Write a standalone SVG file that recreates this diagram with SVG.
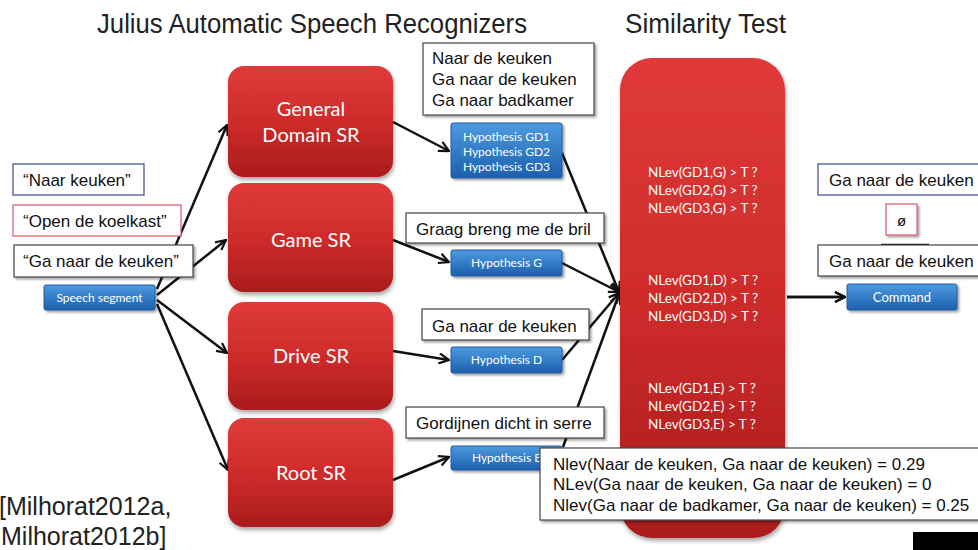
<svg xmlns="http://www.w3.org/2000/svg" width="978" height="550" viewBox="0 0 978 550">
<defs>
<linearGradient id="red" x1="0" y1="0" x2="0" y2="1">
<stop offset="0" stop-color="#e03a3a"/>
<stop offset="0.5" stop-color="#cf2b2b"/>
<stop offset="1" stop-color="#aa1c1c"/>
</linearGradient>
<linearGradient id="blue" x1="0" y1="0" x2="0" y2="1">
<stop offset="0" stop-color="#4d9be0"/>
<stop offset="1" stop-color="#1c5fae"/>
</linearGradient>
<filter id="sh" x="-10%" y="-10%" width="130%" height="140%">
<feDropShadow dx="2" dy="2" stdDeviation="1.2" flood-color="#000" flood-opacity="0.35"/>
</filter>
<filter id="rsh" x="-10%" y="-10%" width="130%" height="130%">
<feDropShadow dx="1" dy="3" stdDeviation="2" flood-color="#000" flood-opacity="0.35"/>
</filter>
<marker id="arr" viewBox="0 0 12 12" refX="11" refY="6" markerWidth="12" markerHeight="12" markerUnits="userSpaceOnUse" orient="auto">
<path d="M1,1 L11,6 L1,11" fill="none" stroke="#111" stroke-width="2.2" stroke-linejoin="miter"/>
</marker>
</defs>
<style>
.title{font-family:"Liberation Sans",Arial,sans-serif;font-size:27px;fill:#222}
.cite{font-family:"Liberation Sans",Arial,sans-serif;font-size:25px;fill:#222}
.bx{fill:#fff;stroke:#444;stroke-width:1.2}
.bt{font-family:"Liberation Sans",Arial,sans-serif;font-size:17px;fill:#111}
.nt{font-family:"Liberation Sans",Arial,sans-serif;font-size:17px;fill:#111}
.sr{fill:url(#red)}
.srt{font-family:Lato,"Noto Sans",sans-serif;font-size:20px;fill:#fff;text-anchor:middle}
.btn{fill:url(#blue);stroke:#24599a;stroke-width:1}
.btt{font-family:Lato,"Noto Sans",sans-serif;font-size:12px;fill:#fff;text-anchor:middle}
.st{font-family:Lato,"Noto Sans",sans-serif;font-size:13.5px;fill:#fff}
.cn{fill:none;stroke:#111;stroke-width:2.5;marker-end:url(#arr)}
</style>
<rect width="978" height="550" fill="#fff"/>

<text class="title" x="97" y="33" textLength="430" lengthAdjust="spacingAndGlyphs">Julius Automatic Speech  Recognizers</text>
<text class="title" x="625" y="33" textLength="161" lengthAdjust="spacingAndGlyphs">Similarity Test</text>

<g id="connectors">
<path class="cn" d="M157,289 L227,125"/>
<path class="cn" d="M157,295 L226,240"/>
<path class="cn" d="M157,300 L227,353"/>
<path class="cn" d="M157,304 L228,470"/>
<path class="cn" d="M393,122 L449,151"/>
<path class="cn" d="M393,240 L449,262"/>
<path class="cn" d="M393,351 L449,360"/>
<path class="cn" d="M393,480 L449,457"/>
<path class="cn" d="M562,153 L619,292"/>
<path class="cn" d="M562,263 L619,292"/>
<path class="cn" d="M562,360 L619,293"/>
<path class="cn" d="M563,447 L619,294"/>
<path class="cn" d="M787,297 L845,297"/>
</g>

<g id="input1"><rect class="bx" x="13" y="164" width="131" height="31" style="stroke:#3c4a8c"/><text class="bt" x="23" y="186">“Naar keuken”</text></g>
<g id="input2"><rect class="bx" x="13" y="205" width="168" height="31" style="stroke:#d9566a"/><text class="bt" x="23" y="227">“Open de koelkast”</text></g>
<g id="input3"><rect class="bx" x="14" y="245" width="179" height="32" filter="url(#sh)"/><text class="bt" x="23" y="267">“Ga naar de keuken”</text></g>
<g id="speech"><rect class="btn" x="44" y="285" width="111" height="25" rx="2" filter="url(#sh)"/><text class="btt" x="99.5" y="302">Speech segment</text></g>

<g id="general-sr"><rect class="sr" x="228" y="66" width="165" height="111" rx="16" filter="url(#rsh)"/><text class="srt" x="311" y="116">General</text><text class="srt" x="311" y="142">Domain SR</text></g>
<g id="game-sr"><rect class="sr" x="228" y="183" width="165" height="109" rx="16" filter="url(#rsh)"/><text class="srt" x="311" y="247">Game SR</text></g>
<g id="drive-sr"><rect class="sr" x="228" y="302" width="165" height="108" rx="16" filter="url(#rsh)"/><text class="srt" x="311" y="363">Drive SR</text></g>
<g id="root-sr"><rect class="sr" x="228" y="418" width="165" height="109" rx="16" filter="url(#rsh)"/><text class="srt" x="311" y="480">Root SR</text></g>

<g id="gd-text"><rect class="bx" x="423" y="43" width="171" height="72" filter="url(#sh)"/><text class="bt" x="432" y="64">Naar de keuken</text><text class="bt" x="432" y="85">Ga naar de keuken</text><text class="bt" x="432" y="106">Ga naar badkamer</text></g>
<g id="hyp-gd"><rect class="btn" x="451" y="123" width="111" height="55" rx="2" filter="url(#sh)"/><text class="btt" x="506.5" y="141">Hypothesis GD1</text><text class="btt" x="506.5" y="156">Hypothesis GD2</text><text class="btt" x="506.5" y="171">Hypothesis GD3</text></g>
<g id="g-text"><rect class="bx" x="406" y="213" width="198" height="30" filter="url(#sh)"/><text class="bt" x="416" y="235">Graag breng me de bril</text></g>
<g id="hyp-g"><rect class="btn" x="451" y="250" width="111" height="26" rx="2" filter="url(#sh)"/><text class="btt" x="506.5" y="267">Hypothesis G</text></g>
<g id="d-text"><rect class="bx" x="422" y="309" width="167" height="31" filter="url(#sh)"/><text class="bt" x="432" y="332">Ga naar de keuken</text></g>
<g id="hyp-d"><rect class="btn" x="451" y="347" width="111" height="26" rx="2" filter="url(#sh)"/><text class="btt" x="506.5" y="364">Hypothesis D</text></g>
<g id="e-text"><rect class="bx" x="406" y="407" width="198" height="31" filter="url(#sh)"/><text class="bt" x="416" y="429">Gordijnen dicht in serre</text></g>
<g id="hyp-e"><rect class="btn" x="451" y="446" width="111" height="24" rx="2" filter="url(#sh)"/><text class="btt" x="506.5" y="462">Hypothesis E</text></g>

<g id="similarity"><rect class="sr" x="620" y="58" width="165" height="480" rx="32" filter="url(#rsh)"/>
<text class="st" x="648" y="177">NLev(GD1,G) &gt; T ?</text><text class="st" x="648" y="195">NLev(GD2,G) &gt; T ?</text><text class="st" x="648" y="213">NLev(GD3,G) &gt; T ?</text>
<text class="st" x="648" y="285">NLev(GD1,D) &gt; T ?</text><text class="st" x="648" y="303">NLev(GD2,D) &gt; T ?</text><text class="st" x="648" y="321">NLev(GD3,D) &gt; T ?</text>
<text class="st" x="648" y="393">NLev(GD1,E) &gt; T ?</text><text class="st" x="648" y="411">NLev(GD2,E) &gt; T ?</text><text class="st" x="648" y="429">NLev(GD3,E) &gt; T ?</text>
</g>
<path class="cn" d="M787,297 L845,297"/>

<g id="result1"><rect class="bx" x="818" y="164" width="172" height="31" style="stroke:#3c4a8c"/><text class="bt" x="829" y="186">Ga naar de keuken</text></g>
<g id="empty"><rect class="bx" x="886" y="204" width="31" height="31" style="stroke:#d9566a" filter="url(#sh)"/><text class="bt" x="901.5" y="226" text-anchor="middle" style="font-size:15px">ø</text></g>
<line x1="881" y1="245" x2="929" y2="245" stroke="#111" stroke-width="2.5"/>
<g id="result2"><rect class="bx" x="818" y="245" width="172" height="31" filter="url(#sh)"/><text class="bt" x="829" y="267">Ga naar de keuken</text></g>
<g id="command"><rect class="btn" x="847" y="284" width="110" height="26" rx="2" filter="url(#sh)"/><text class="btt" x="902" y="302" style="font-size:13px">Command</text></g>

<g id="nlev"><rect class="bx" x="540" y="448" width="450" height="72" filter="url(#sh)"/>
<text class="nt" x="553" y="470">Nlev(Naar de keuken, Ga naar de keuken) = 0.29</text>
<text class="nt" x="553" y="490">NLev(Ga naar de keuken, Ga naar de keuken) = 0</text>
<text class="nt" x="553" y="511">Nlev(Ga naar de badkamer, Ga naar de keuken) = 0.25</text>
</g>

<text class="cite" x="-1" y="515">[Milhorat2012a,</text>
<text class="cite" x="1" y="545">Milhorat2012b]</text>
<rect x="913" y="532" width="70" height="20" fill="#000"/>
</svg>
